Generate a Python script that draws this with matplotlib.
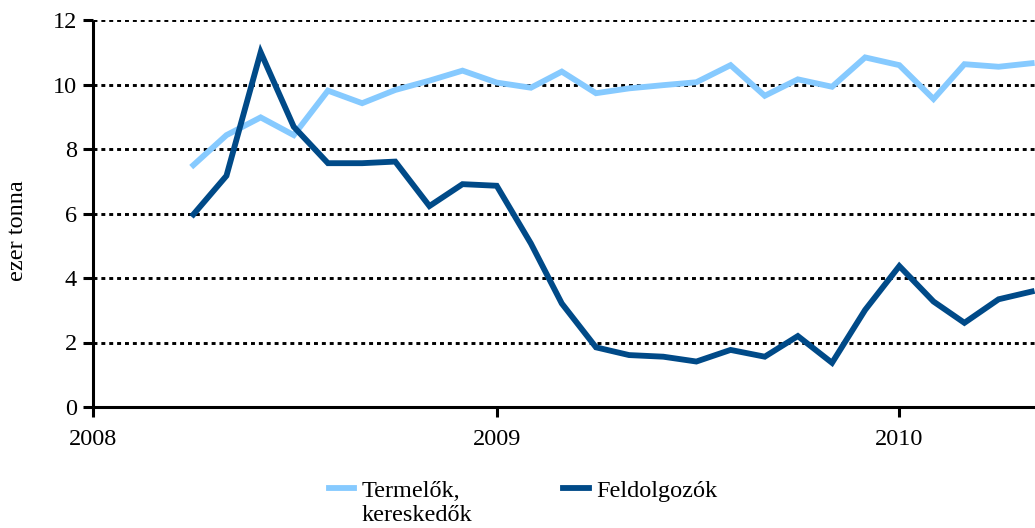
import matplotlib
matplotlib.use("Agg")
import matplotlib.pyplot as plt
import pandas as pd

months = pd.date_range("2008-04-01", periods=26, freq="MS")
termelok = [7.50, 8.43, 8.98, 8.43, 9.81, 9.42, 9.83, 10.12, 10.43, 10.06,
            9.90, 10.40, 9.73, 9.88, 9.98, 10.07, 10.60, 9.65, 10.16, 9.93,
            10.84, 10.60, 9.55, 10.63, 10.55, 10.66]
feldolgozok = [5.97, 7.17, 11.00, 8.69, 7.56, 7.56, 7.61, 6.23, 6.91, 6.86,
               5.07, 3.21, 1.85, 1.61, 1.56, 1.41, 1.77, 1.56, 2.20, 1.37,
               3.01, 4.37, 3.27, 2.61, 3.34, 3.58]
series_names = ["Termelők,", "Feldolgozók"]
series_name_cont = "kereskedők"
year_ticks = pd.to_datetime(["2008-01-01", "2009-01-01", "2010-01-01"])
year_labels = ["2008", "2009", "2010"]
y_ticks = [0, 2, 4, 6, 8, 10, 12]

plt.rcParams["font.family"] = ["Liberation Serif", "DejaVu Serif"]

W, H = 1035, 528
fig = plt.figure(figsize=(W / 100, H / 100), dpi=100)
ax = fig.add_axes([93/W, 1 - 407/H, 1 - 93/W, (407 - 20)/H])

light = "#86CAFF"
dark = "#004A88"

for yv in y_ticks[1:]:
    ax.axhline(yv, color="black", lw=2.1, linestyle=(0, (1.35, 1.35)), zorder=1)

ax.plot(months, termelok, color=light, lw=4.2, label=series_names[0], zorder=3,
        solid_joinstyle="miter")
ax.plot(months, feldolgozok, color=dark, lw=4.2, label=series_names[1], zorder=4,
        solid_joinstyle="miter")

ax.set_ylim(0, 12)
ax.set_xlim(pd.Timestamp("2008-01-01"), pd.Timestamp("2010-05-04"))
ax.set_yticks(y_ticks)
ax.set_xticks(year_ticks)
ax.set_xticklabels(year_labels)

for s in ["top", "right"]:
    ax.spines[s].set_visible(False)
for s in ["left", "bottom"]:
    ax.spines[s].set_linewidth(2.2)
    ax.spines[s].set_color("black")
    ax.spines[s].set_capstyle("butt")

ax.tick_params(axis="both", direction="out", length=7.5, width=2.2,
               labelsize=17.5, colors="black")
ax.tick_params(axis="y", pad=4)
ax.tick_params(axis="x", pad=8)
ax.set_ylabel("ezer tonna", fontsize=17.5, va="center")
ax.yaxis.set_label_coords(-0.0797, 0.455)

leg = fig.legend(loc="upper left", bbox_to_anchor=(319/W, 1 - 470/H),
                 ncol=2, frameon=False, fontsize=17.5, handlelength=1.05,
                 handletextpad=0.3, columnspacing=4.25, borderaxespad=0)
for line in leg.get_lines():
    line.set_linewidth(4.2)

fig.canvas.draw()
bb = leg.get_texts()[0].get_window_extent()
fig.text(bb.x0 / W, (bb.y0 - 24) / H, series_name_cont, fontsize=17.5,
         ha="left", va="bottom")

fig.savefig("out.png", dpi=100)
